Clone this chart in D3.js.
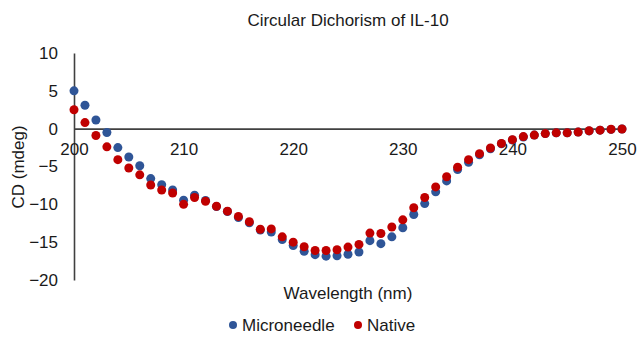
<!DOCTYPE html>
<html>
<head>
<meta charset="utf-8">
<script src="https://cdn.jsdelivr.net/npm/d3@7"></script>
<style>
  body { margin: 0; background: #fff; }
  text { font-family: "Liberation Sans", Arial, sans-serif; fill: #1a1a1a; }
</style>
</head>
<body>
<script>
// wavelength in nm, one reading per nm
const wavelength = d3.range(200, 251);

const microneedle = [
  5.0, 3.1, 1.15, -0.5, -2.5, -3.75, -4.9, -6.6, -7.4, -8.1,
  -9.45, -8.8, -9.5, -10.3, -10.95, -11.75, -12.45, -13.4, -13.65, -14.65,
  -15.45, -16.2, -16.65, -16.85, -16.8, -16.6, -16.3, -14.8, -15.2, -14.3,
  -13.1, -11.35, -9.9, -8.35, -6.9, -5.4, -4.45, -3.45, -2.65, -2.0,
  -1.5, -1.1, -0.85, -0.65, -0.55, -0.55, -0.45, -0.3, -0.2, -0.1,
  -0.05
];

const native = [
  2.5, 0.8, -0.9, -2.4, -4.1, -5.2, -6.1, -7.45, -8.1, -8.5,
  -10.0, -9.1, -9.6, -10.25, -10.9, -11.6, -12.3, -13.3, -13.25, -14.3,
  -15.0, -15.6, -16.1, -16.1, -16.0, -15.65, -15.3, -13.8, -13.85, -13.0,
  -12.05, -10.45, -9.1, -7.7, -6.35, -5.1, -4.1, -3.3, -2.55, -1.95,
  -1.45, -1.05, -0.85, -0.65, -0.55, -0.55, -0.45, -0.27, -0.2, -0.07,
  -0.05
];

const xTicks = [200, 210, 220, 230, 240, 250];
const yTicks = [10, 5, 0, -5, -10, -15, -20];

const seriesNames = ["Microneedle", "Native"];
const seriesColors = ["#2f5597", "#c00000"];

let svg = d3.select("body")
  .append("svg")
    .attr("width", 638)
    .attr("height", 342)
;

let x = d3.scaleLinear().domain([200, 250]).range([74, 622]);
let y = d3.scaleLinear().domain([-20, 10]).range([280, 53]);

// y axis on the left edge
let yAxis = svg.append("g")
  .attr("transform", "translate(" + x(200) + ",0)")
  .call(d3.axisLeft(y).tickValues(yTicks).tickSize(0).tickPadding(16));

// x axis sits on the zero line
let xAxis = svg.append("g")
  .attr("transform", "translate(0," + y(0) + ")")
  .call(d3.axisBottom(x).tickValues(xTicks).tickSize(0).tickPadding(14));

svg.selectAll(".domain").attr("stroke", "#404040").attr("stroke-width", 1.6);
svg.selectAll(".tick text")
  .attr("font-family", "Liberation Sans, Arial, sans-serif")
  .attr("font-size", 17)
  .attr("fill", "#1a1a1a");

// points, blue first so red sits on top
let series = [microneedle, native];
series.forEach(function(values, s){
  svg.append("g").selectAll("circle").data(values)
    .enter()
      .append("circle")
      .attr("cx", function(d, i){ return x(wavelength[i]); })
      .attr("cy", function(d){ return y(d); })
      .attr("r", 4.5)
      .attr("fill", seriesColors[s])
  ;
});

// titles
svg.append("text")
  .attr("x", 348).attr("y", 26)
  .attr("text-anchor", "middle")
  .attr("font-size", 17)
  .text("Circular Dichorism of IL-10");

svg.append("text")
  .attr("x", 348).attr("y", 299)
  .attr("text-anchor", "middle")
  .attr("font-size", 17)
  .text("Wavelength (nm)");

svg.append("text")
  .attr("transform", "translate(24,167) rotate(-90)")
  .attr("text-anchor", "middle")
  .attr("font-size", 17)
  .text("CD (mdeg)");

// legend
let legendX = [233, 358];
seriesNames.forEach(function(name, s){
  svg.append("circle")
    .attr("cx", legendX[s]).attr("cy", 325)
    .attr("r", 4)
    .attr("fill", seriesColors[s]);
  svg.append("text")
    .attr("x", legendX[s] + 9).attr("y", 331)
    .attr("font-size", 17)
    .text(name);
});
</script>
</body>
</html>
